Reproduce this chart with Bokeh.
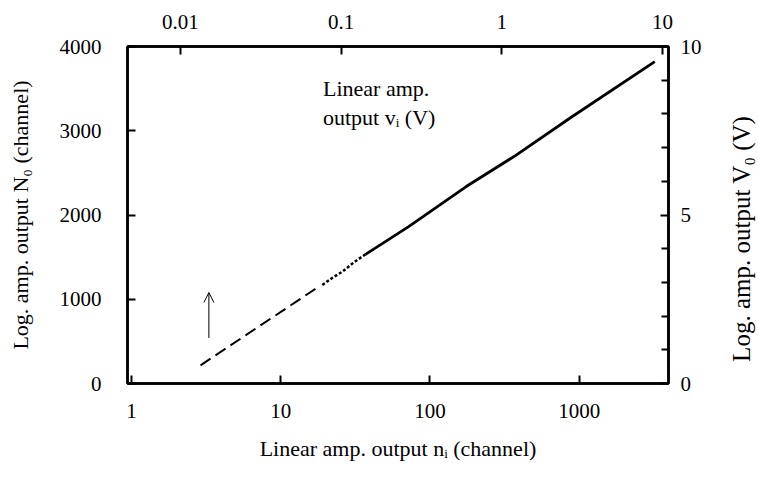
from bokeh.plotting import figure
from bokeh.layouts import row
from bokeh.models import (Range1d, LogAxis, LinearAxis, FixedTicker, Label,
                          Arrow, OpenHead, Div)
from bokeh.embed import file_html
from bokeh.resources import INLINE

# ---- data ----
# dashed (extrapolated) low part of the calibration curve
dash_ni = [2.9, 18.0]
dash_N0 = [216, 1150]
# noisy region
noisy_ni = [19.0, 22.0, 26.0, 31.0, 37.0]
noisy_N0 = [1170, 1250, 1330, 1440, 1533]
# measured curve
solid_ni = [37.0, 72.0, 174.0, 374.0, 885.0, 3212.0]
solid_N0 = [1533, 1862, 2335, 2705, 3160, 3820]

# arrow (threshold marker)
arrow_ni = 3.3
arrow_N0 = [540, 1080]

bottom_ticks = [1, 10, 100, 1000]
bottom_labels = ["1", "10", "100", "1000"]
top_ticks = [0.01, 0.1, 1, 10]
top_labels = ["0.01", "0.1", "1", "10"]
left_ticks = [0, 1000, 2000, 3000, 4000]
left_labels = ["0", "1000", "2000", "3000", "4000"]
right_ticks = [0, 5, 10]
right_minor = [1, 2, 3, 4, 6, 7, 8, 9]
right_labels = ["0", "5", "10"]
right_title = "Log. amp. output V₀ (V)"

FONT = "Liberation Serif"
TICK_FS = "21px"
LABEL_FS = "22px"

p = figure(width=725, height=483, x_axis_type="log",
           x_range=Range1d(0.94, 3970), y_range=Range1d(0, 4000),
           output_backend="svg", toolbar_location=None,
           min_border_left=127, min_border_right=57,
           min_border_top=46, min_border_bottom=100,
           x_axis_location=None, y_axis_location=None, margin=0)
p.extra_x_ranges = {"vi": Range1d(0.00468, 10.9)}
p.extra_y_ranges = {"V": Range1d(0, 10)}

p.grid.visible = False
p.background_fill_color = "white"
p.border_fill_color = "white"
p.outline_line_color = "black"
p.outline_line_width = 2.5


def style(ax):
    ax.axis_line_color = "black"
    ax.axis_line_width = 2.5
    ax.major_tick_in = 8
    ax.major_tick_out = 0
    ax.major_tick_line_width = 2
    ax.minor_tick_in = 0
    ax.minor_tick_out = 0
    ax.major_label_text_font = FONT
    ax.major_label_text_font_size = TICK_FS
    ax.major_label_text_color = "black"
    ax.axis_label_text_font = FONT
    ax.axis_label_text_font_size = LABEL_FS
    ax.axis_label_text_font_style = "normal"
    ax.axis_label_text_color = "black"


bottom = LogAxis(ticker=FixedTicker(ticks=bottom_ticks),
                 axis_label="Linear amp. output nᵢ (channel)")
bottom.major_label_overrides = {t: l for t, l in zip(bottom_ticks, bottom_labels)}
style(bottom)
bottom.major_label_standoff = 20
bottom.axis_label_standoff = 15
p.add_layout(bottom, "below")

top = LogAxis(x_range_name="vi", ticker=FixedTicker(ticks=top_ticks))
top.major_label_overrides = {t: l for t, l in zip(top_ticks, top_labels)}
style(top)
top.major_label_standoff = 18
p.add_layout(top, "above")

left = LinearAxis(ticker=FixedTicker(ticks=left_ticks),
                  axis_label="Log. amp. output N₀ (channel)")
left.major_label_overrides = {t: l for t, l in zip(left_ticks, left_labels)}
style(left)
left.major_label_standoff = 26
left.axis_label_standoff = 24
p.add_layout(left, "left")

right = LinearAxis(y_range_name="V",
                   ticker=FixedTicker(ticks=right_ticks, minor_ticks=right_minor))
right.major_label_overrides = {t: l for t, l in zip(right_ticks, right_labels)}
style(right)
right.minor_tick_in = 7
right.minor_tick_line_width = 2
right.major_label_standoff = 12
p.add_layout(right, "right")

# curve
p.line(dash_ni, dash_N0, line_color="black", line_width=2, line_dash="12 6")
p.line(noisy_ni, noisy_N0, line_color="black", line_width=2.5, line_dash="3 2")
p.line(solid_ni, solid_N0, line_color="black", line_width=2.8)

p.add_layout(Arrow(end=OpenHead(size=10, line_width=1, line_color="black"),
                   x_start=arrow_ni, y_start=arrow_N0[0],
                   x_end=arrow_ni, y_end=arrow_N0[1],
                   line_width=1, line_color="black"))

p.add_layout(Label(x=19.2, y=3650, text="Linear amp.\noutput vᵢ  (V)",
                   text_font=FONT, text_font_size="22px",
                   text_baseline="top", text_align="left",
                   text_line_height=1.15, text_color="black"))

# right-hand axis title, reading bottom-to-top
title_html = (
    '<div style="width:483px;height:33px;box-sizing:border-box;'
    'padding-left:5px;transform-origin:0 0;'
    'transform:translate(0px,483px) rotate(-90deg);text-align:center;'
    "line-height:33px;font-family:'Liberation Serif',serif;font-size:25px;"
    'color:black;white-space:nowrap;">' + right_title + '</div>'
)
right_title_div = Div(text=title_html, width=33, height=483, margin=0,
                      styles={"overflow": "visible", "background": "white"})

layout = row(p, right_title_div, spacing=0)
open("out.html", "w").write(file_html(layout, INLINE))
